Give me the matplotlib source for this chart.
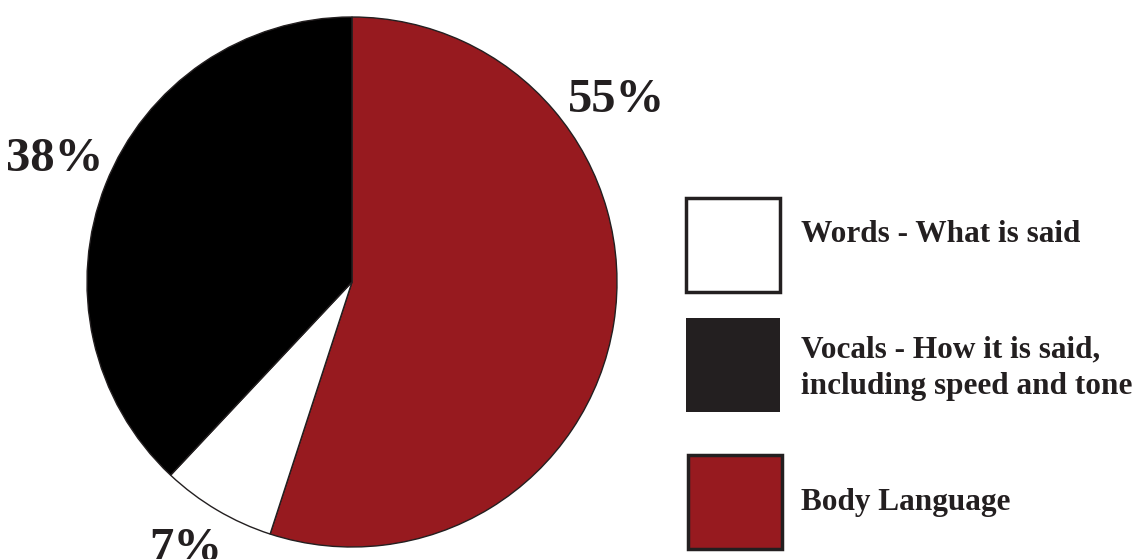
import matplotlib
matplotlib.use("Agg")
import matplotlib.pyplot as plt
from matplotlib.patches import Rectangle

# data
categories = ["Body Language", "Words - What is said", "Vocals - How it is said,\nincluding speed and tone"]
shares = [55, 7, 38]
colors = ["#971a1f", "#ffffff", "#000000"]
pct_labels = ["55%", "7%", "38%"]

# legend order as in the picture
legend_order = [1, 2, 0]
legend_fill = ["#ffffff", "#231f20", "#971a1f"]

W, H = 1141, 559
ink = "#231f20"
serif = ["Liberation Serif", "DejaVu Serif"]

fig = plt.figure(figsize=(W / 100, H / 100), dpi=100)
ax = fig.add_axes([0, 0, 1, 1])

def py(y):
    # pixel row from top -> data y
    return H - y

ax.pie(shares, colors=colors, startangle=90, counterclock=False,
       center=(352, py(282)), radius=265, frame=True,
       wedgeprops=dict(edgecolor=ink, linewidth=1))
ax.set_xlim(0, W)
ax.set_ylim(0, H)
ax.set_aspect("equal")
ax.axis("off")

# percentage labels (x centre, baseline row)
label_pos = [(617, 112), (186, 561), (55, 171)]
for txt, (x, y) in zip(pct_labels, label_pos):
    ax.text(x, py(y), txt, ha="center", va="baseline", fontsize=35,
            fontweight="bold", family=serif, color=ink)

# legend
box_pos = [(686, 198), (686, 318), (688, 455)]
text_base = [242, 357, 510]
for i, (k, (bx, by)) in enumerate(zip(legend_order, box_pos)):
    ax.add_patch(Rectangle((bx, py(by + 94)), 94, 94, facecolor=legend_fill[i],
                           edgecolor=ink, linewidth=2.5 if i != 1 else 0))
    for j, line in enumerate(categories[k].split("\n")):
        ax.text(801, py(text_base[i] + 37 * j), line, ha="left", va="baseline",
                fontsize=22.5, fontweight="bold", family=serif, color=ink)

fig.savefig("out.png", dpi=100)
